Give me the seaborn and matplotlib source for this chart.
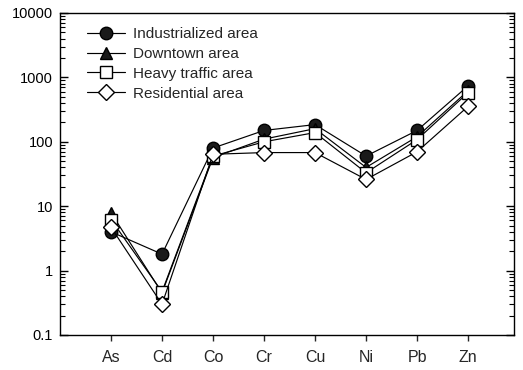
import matplotlib
matplotlib.use("Agg")
import matplotlib.pyplot as plt
import seaborn as sns
import pandas as pd
from matplotlib.ticker import LogLocator, FixedLocator, FixedFormatter, NullFormatter

elements = ["As", "Cd", "Co", "Cr", "Cu", "Ni", "Pb", "Zn"]
industrialized = [4.0, 1.8, 80, 150, 185, 60, 150, 740]
downtown = [7.9, 0.45, 57, 110, 160, 40, 120, 620]
heavy_traffic = [6.2, 0.47, 60, 100, 139, 33, 108, 580]
residential = [4.7, 0.30, 64, 68, 68, 26, 70, 355]

series = [
    ("Industrialized area", industrialized, "o", "#1a1a1a", 9),
    ("Downtown area", downtown, "^", "#1a1a1a", 8),
    ("Heavy traffic area", heavy_traffic, "s", "white", 8.5),
    ("Residential area", residential, "D", "white", 8),
]

sns.set_style("ticks")
plt.rcParams["font.family"] = ["Liberation Sans", "DejaVu Sans"]

fig = plt.figure(figsize=(5.23, 3.70), dpi=100)
ax = fig.add_axes([0.1147, 0.0946, 0.8681, 0.8703])

x = list(range(len(elements)))
for name, vals, mk, fc, ms in series:
    df = pd.DataFrame({"x": x, "y": vals})
    sns.lineplot(data=df, x="x", y="y", ax=ax, color="black", linewidth=0.85,
                 marker=mk, markersize=ms, markerfacecolor=fc,
                 markeredgecolor="black", markeredgewidth=1.0, label=name)

ax.set_yscale("log")
ax.set_ylim(0.1, 10000)
ax.set_xlim(-1, 7.9)
ax.set_xlabel("")
ax.set_ylabel("")
ax.xaxis.set_major_locator(FixedLocator(x))
ax.xaxis.set_major_formatter(FixedFormatter(elements))
ax.yaxis.set_major_locator(FixedLocator([0.1, 1, 10, 100, 1000, 10000]))
ax.yaxis.set_major_formatter(FixedFormatter(["0.1", "1", "10", "100", "1000", "10000"]))
ax.yaxis.set_minor_locator(LogLocator(base=10, subs=range(2, 10)))
ax.yaxis.set_minor_formatter(NullFormatter())
ax.tick_params(axis="y", which="both", direction="in", left=True, right=True,
               labelsize=10.5, colors="black", pad=5)
ax.tick_params(axis="y", which="major", length=6, width=1)
ax.tick_params(axis="y", which="minor", length=3.5, width=0.8)
ax.tick_params(axis="x", which="both", direction="out", length=4.5, width=1,
               labelsize=11.5, bottom=True, top=False, pad=6)
ax.tick_params(axis="x", which="minor", bottom=False)
for s in ax.spines.values():
    s.set_visible(True)
    s.set_color("black")
    s.set_linewidth(1.0)

leg = ax.legend(loc="upper left", frameon=False, fontsize=11, handlelength=2.5,
                handletextpad=0.55, labelspacing=0.38, borderaxespad=0.0,
                bbox_to_anchor=(0.045, 0.975))

fig.savefig("out.png", dpi=100)
